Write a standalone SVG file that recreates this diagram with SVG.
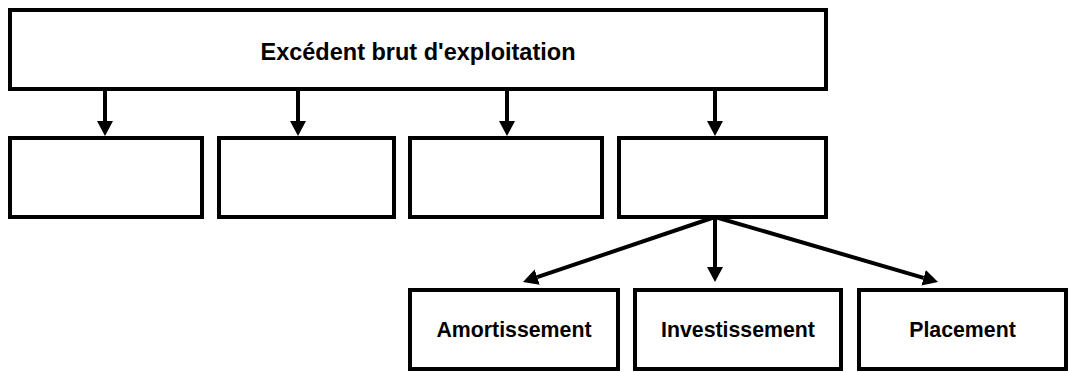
<svg xmlns="http://www.w3.org/2000/svg" width="1069" height="372" viewBox="0 0 1069 372">
  <style>
    .box { fill: #ffffff; stroke: #000000; stroke-width: 4; }
    .lbl { font-family: "Liberation Sans", Arial, sans-serif; font-weight: bold; fill: #000000; text-anchor: middle; }
    .conn { stroke: #000000; stroke-width: 4; fill: none; }
  </style>
  <defs>
    <marker id="arr" markerUnits="userSpaceOnUse" markerWidth="16" markerHeight="18" refX="0" refY="8" orient="auto" viewBox="0 0 16 16">
      <path d="M0,0 L15,8 L0,16 z" fill="#000000"/>
    </marker>
  </defs>
  <rect width="1069" height="372" fill="#ffffff"/>
  <g id="connectors">
    <line class="conn" x1="105" y1="89" x2="105" y2="121" marker-end="url(#arr)"/>
    <line class="conn" x1="298" y1="89" x2="298" y2="121" marker-end="url(#arr)"/>
    <line class="conn" x1="507" y1="89" x2="507" y2="121" marker-end="url(#arr)"/>
    <line class="conn" x1="715" y1="89" x2="715" y2="121" marker-end="url(#arr)"/>
    <line class="conn" x1="715" y1="217" x2="537.2" y2="277.2" marker-end="url(#arr)"/>
    <line class="conn" x1="715" y1="217" x2="715" y2="267" marker-end="url(#arr)"/>
    <line class="conn" x1="715" y1="217" x2="923.6" y2="277.8" marker-end="url(#arr)"/>
  </g>
  <g id="ebe">
    <rect class="box" x="10" y="10" width="816" height="79"/>
    <text class="lbl" x="418" y="60" font-size="23.5">Excédent brut d'exploitation</text>
  </g>
  <g id="n1"><rect class="box" x="10" y="138" width="192" height="79"/></g>
  <g id="n2"><rect class="box" x="219" y="138" width="175" height="79"/></g>
  <g id="n3"><rect class="box" x="410" y="138" width="192" height="79"/></g>
  <g id="n4"><rect class="box" x="619" y="138" width="207" height="79"/></g>
  <g id="amortissement">
    <rect class="box" x="410" y="290" width="208" height="79"/>
    <text class="lbl" x="514" y="337" font-size="21.3">Amortissement</text>
  </g>
  <g id="investissement">
    <rect class="box" x="635" y="290" width="206" height="79"/>
    <text class="lbl" x="738" y="337" font-size="21.3">Investissement</text>
  </g>
  <g id="placement">
    <rect class="box" x="859" y="290" width="207" height="79"/>
    <text class="lbl" x="962.5" y="337" font-size="21.3">Placement</text>
  </g>
</svg>
